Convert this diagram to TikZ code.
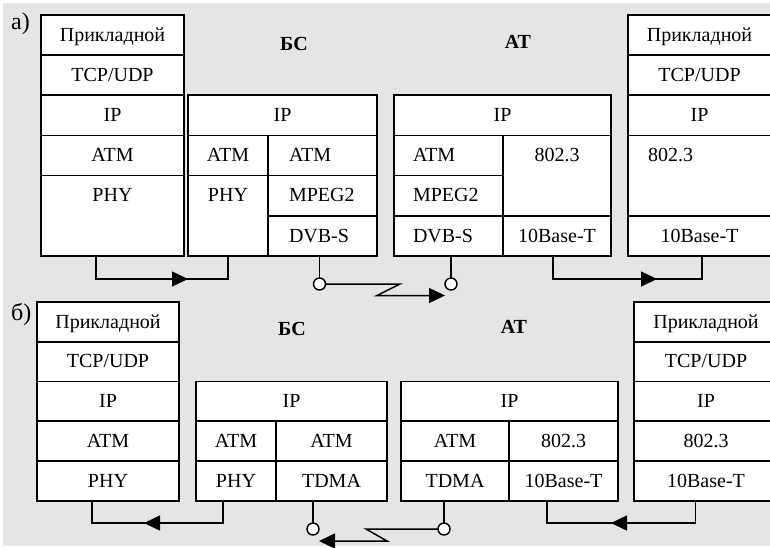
\documentclass[tikz,border=0pt]{standalone}
\usepackage{fontspec}
\setmainfont{Liberation Serif}
\usetikzlibrary{arrows.meta}
\definecolor{panelgray}{RGB}{229,229,229}
\tikzset{
  cellfont/.style={font=\fontsize{20}{22}\selectfont, text height=14pt, text depth=2pt},
  cell/.style={draw, fill=white, line width=1.5pt, anchor=north west,
    inner sep=0pt, outer sep=0pt, cellfont},
  lcell/.style={cell, text width=#1, align=left},
  toplbl/.style={anchor=north, inner sep=0pt, cellfont, yshift=-12pt},
  toptext/.style={label={[toplbl]north:#1}},
  hdr/.style={anchor=base, inner sep=0pt, font=\fontsize{20}{22}\selectfont\bfseries},
  panel/.style={anchor=base west, inner sep=0pt, font=\fontsize{24}{26}\selectfont},
  wire/.style={line width=1.5pt},
  tip/.style={wire, -{Triangle[length=16pt, width=15pt]}},
  port/.style={circle, draw, fill=white, line width=1.4pt, minimum size=12pt,
    inner sep=0pt, outer sep=0pt}
}
\begin{document}
\begin{tikzpicture}[x=1pt, y=-1pt]
  \clip (0,0) rectangle (770,547);
  \fill[white] (0,0) rectangle (770,547);
  \fill[panelgray] (3,3) rectangle (771,545.5);

  % ---------------- a) ----------------
  \node[panel] (lbla) at (11,29.5) {а)};
  \node[hdr] (bsa) at (294,50) {БС};
  \node[hdr] (ata) at (518,48) {АТ};

  % host stack, left
  \node[cell, minimum width=143pt, minimum height=40pt] (a1app) at (41,15) {Прикладной};
  \node[cell, minimum width=143pt, minimum height=40pt] (a1tcp) at (41,55) {TCP/UDP};
  \node[cell, minimum width=143pt, minimum height=40.5pt] (a1ip) at (41,95) {IP};
  \node[cell, minimum width=143pt, minimum height=40pt] (a1atm) at (41,135.5) {ATM};
  \node[cell, minimum width=143pt, minimum height=80.5pt, toptext=PHY] (a1phy) at (41,175.5) {};

  % base station
  \node[cell, minimum width=189pt, minimum height=40.5pt] (a2ip) at (188,95) {IP};
  \node[cell, minimum width=80pt, minimum height=40pt] (a2atm) at (188,135.5) {ATM};
  \node[cell, minimum width=80pt, minimum height=80.5pt, toptext=PHY] (a2phy) at (188,175.5) {};
  \node[lcell=67pt, minimum width=109pt, minimum height=40pt] (a2atmr) at (268,135.5) {ATM};
  \node[lcell=67pt, minimum width=109pt, minimum height=40.5pt] (a2mpeg) at (268,175.5) {MPEG2};
  \node[lcell=67pt, minimum width=109pt, minimum height=40pt] (a2dvb) at (268,216) {DVB-S};

  % subscriber terminal
  \node[cell, minimum width=217pt, minimum height=40.5pt] (a3ip) at (394,95) {IP};
  \node[lcell=71pt, minimum width=109pt, minimum height=40pt] (a3atm) at (394,135.5) {ATM};
  \node[lcell=71pt, minimum width=109pt, minimum height=40.5pt] (a3mpeg) at (394,175.5) {MPEG2};
  \node[lcell=71pt, minimum width=109pt, minimum height=40pt] (a3dvb) at (394,216) {DVB-S};
  \node[cell, minimum width=108pt, minimum height=80.5pt, toptext=802.3] (a3eth) at (503,135.5) {};
  \node[cell, minimum width=108pt, minimum height=40pt] (a3base) at (503,216) {10Base-T};

  % host stack, right
  \node[cell, minimum width=143pt, minimum height=40pt] (a4app) at (628,15) {Прикладной};
  \node[cell, minimum width=143pt, minimum height=40pt] (a4tcp) at (628,55) {TCP/UDP};
  \node[cell, minimum width=143pt, minimum height=40.5pt] (a4ip) at (628,95) {IP};
  \node[cell, minimum width=143pt, minimum height=80.5pt,
        label={[toplbl, anchor=north west, xshift=20pt]north west:802.3}] (a4eth) at (628,135.5) {};
  \node[cell, minimum width=143pt, minimum height=40pt] (a4base) at (628,216) {10Base-T};

  % wired links
  \draw[wire] ([xshift=-16.5pt]a1phy.south) -- ++(0,23) coordinate (a1bend) -| (a2phy.south);
  \coordinate (a1tip) at (188,279);
  \draw[tip] (a1bend) -- (a1tip);
  \draw[wire] ([xshift=-4pt]a3base.south) -- ++(0,23) coordinate (a3bend) -| ([xshift=2.5pt]a4base.south);
  \coordinate (a3tip) at (657,279);
  \draw[tip] (a3bend) -- (a3tip);

  % radio link
  \node[port] (a2port) at ([xshift=-3pt, yshift=-28pt]a2dvb.south) {};
  \node[port] (a3port) at ([xshift=2.5pt, yshift=-28pt]a3dvb.south) {};
  \draw[wire] (a2port |- a2dvb.south) -- (a2port.north);
  \draw[wire] (a3port |- a3dvb.south) -- (a3port.north);
  \draw[tip] (a2port.east) -- ++(74.5,0) -- ++(-23,11.5) -- ([yshift=-11.5pt]a3port.west);

  % ---------------- б) ----------------
  \node[panel] (lblb) at (11,320.5) {б)};
  \node[hdr] (bsb) at (292,335) {БС};
  \node[hdr] (atb) at (514,333) {АТ};

  % host stack, left
  \node[cell, minimum width=142pt, minimum height=40pt] (b1app) at (37,302) {Прикладной};
  \node[cell, minimum width=142pt, minimum height=39.5pt] (b1tcp) at (37,342) {TCP/UDP};
  \node[cell, minimum width=142pt, minimum height=39.5pt] (b1ip) at (37,381.5) {IP};
  \node[cell, minimum width=142pt, minimum height=40pt] (b1atm) at (37,421) {ATM};
  \node[cell, minimum width=142pt, minimum height=40pt] (b1phy) at (37,461) {PHY};

  % base station
  \node[cell, minimum width=191pt, minimum height=39.5pt] (b2ip) at (196,381.5) {IP};
  \node[cell, minimum width=80pt, minimum height=40pt] (b2atm) at (196,421) {ATM};
  \node[cell, minimum width=111pt, minimum height=40pt] (b2atmr) at (276,421) {ATM};
  \node[cell, minimum width=80pt, minimum height=40pt] (b2phy) at (196,461) {PHY};
  \node[cell, minimum width=111pt, minimum height=40pt] (b2tdma) at (276,461) {TDMA};

  % subscriber terminal
  \node[cell, minimum width=217pt, minimum height=39.5pt] (b3ip) at (401,381.5) {IP};
  \node[cell, minimum width=108pt, minimum height=40pt] (b3atm) at (401,421) {ATM};
  \node[cell, minimum width=109pt, minimum height=40pt] (b3eth) at (509,421) {802.3};
  \node[cell, minimum width=108pt, minimum height=40pt] (b3tdma) at (401,461) {TDMA};
  \node[cell, minimum width=109pt, minimum height=40pt] (b3base) at (509,461) {10Base-T};

  % host stack, right
  \node[cell, minimum width=144pt, minimum height=40pt] (b4app) at (634,302) {Прикладной};
  \node[cell, minimum width=144pt, minimum height=39.5pt] (b4tcp) at (634,342) {TCP/UDP};
  \node[cell, minimum width=144pt, minimum height=39.5pt] (b4ip) at (634,381.5) {IP};
  \node[cell, minimum width=144pt, minimum height=40pt] (b4eth) at (634,421) {802.3};
  \node[cell, minimum width=144pt, minimum height=40pt] (b4base) at (634,461) {10Base-T};

  % wired links
  \draw[wire] ([xshift=-13pt]b2phy.south) -- ++(0,22) coordinate (b2bend) -| ([xshift=-16pt]b1phy.south);
  \coordinate (b2tip) at (144,523);
  \draw[tip] (b2bend) -- (b2tip);
  \draw[wire] ([xshift=-10.5pt]b4base.south) -- ++(0,22) coordinate (b4bend) -| ([xshift=-16.5pt]b3base.south);
  \coordinate (b4tip) at (611,523);
  \draw[tip] (b4bend) -- (b4tip);

  % radio link
  \node[port] (b2port) at ([xshift=-18.5pt, yshift=-28pt]b2tdma.south) {};
  \node[port] (b3port) at ([xshift=-11pt, yshift=-28pt]b3tdma.south) {};
  \draw[wire] (b2port |- b2tdma.south) -- (b2port.north);
  \draw[wire] (b3port |- b3tdma.south) -- (b3port.north);
  \draw[tip] (b3port.west) -- ++(-72,0) -- ++(21,12) -- ([yshift=-12pt]b2port.east);
\end{tikzpicture}
\end{document}
